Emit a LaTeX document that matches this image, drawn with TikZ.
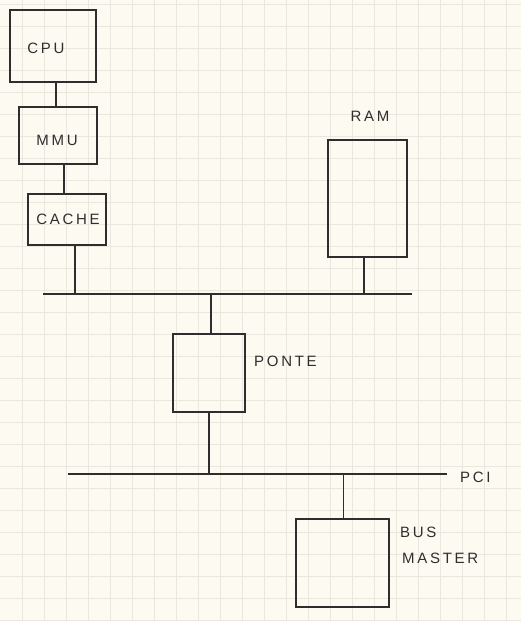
\documentclass[tikz,border=0pt]{standalone}
\usepackage{fontspec}
\setmainfont{Liberation Sans}[LetterSpace=18]
\definecolor{paper}{HTML}{FCFAF1}
\definecolor{gridc}{HTML}{E9E7DE}
\definecolor{ink}{HTML}{2E2E2E}
\begin{document}
\begin{tikzpicture}[x=1pt,y=-1pt,
  box/.style={draw=ink,line width=1.1pt,minimum width=#1,inner sep=0pt},
  lbl/.style={text=ink,font=\fontsize{15}{17}\selectfont,inner sep=0pt},
  wire/.style={draw=ink,line width=1.2pt}]
\fill[paper] (0,0) rectangle (521,621);
\useasboundingbox (0,0) rectangle (521,621);
\foreach \i in {1,...,23} \draw[gridc,line width=0.9pt] (22*\i,0) -- (22*\i,621);
\foreach \j in {0,...,28} \draw[gridc,line width=0.9pt] (0,4+22*\j) -- (521,4+22*\j);
% boxes
\node[box=86pt,minimum height=72pt] (cpu) at (53,46) {};
\node[box=78pt,minimum height=57pt] (mmu) at (58,135.5) {};
\node[box=78pt,minimum height=51pt] (cache) at (67,219.5) {};
\node[box=79pt,minimum height=117pt] (ram) at (367.5,198.5) {};
\node[box=72pt,minimum height=78pt] (ponte) at (209,373) {};
\node[box=93pt,minimum height=88pt] (bm) at (342.5,563) {};
% labels
\node[lbl] (tcpu) at (46,48) {CPU};
\node[lbl] (tmmu) at (57,140) {MMU};
\node[lbl] (tcache) at (68,219) {CACHE};
\node[lbl] (tram) at (370,116) {RAM};
\node[lbl,anchor=west] (tponte) at (254,361) {PONTE};
\node[lbl,anchor=west] (tpci) at (460,477) {PCI};
\node[lbl,anchor=west] (tbus) at (400,532) {BUS};
\node[lbl,anchor=west] (tmaster) at (402,558) {MASTER};
% buses
\coordinate (b1l) at (43,294);
\coordinate (b1r) at (412,294);
\coordinate (b2l) at (68,474);
\coordinate (b2r) at (447,474);
\draw[wire] (b1l) -- (b1r);
\draw[wire] (b2l) -- (b2r);
% connectors
\draw[wire] ([xshift=3pt]cpu.south) -- ([xshift=3pt]cpu.south |- mmu.north);
\draw[wire] ([xshift=6pt]mmu.south) -- ([xshift=6pt]mmu.south |- cache.north);
\draw[wire] ([xshift=8pt]cache.south) -- ([xshift=8pt]cache.south |- b1l);
\draw[wire] ([xshift=-3.5pt]ram.south) -- ([xshift=-3.5pt]ram.south |- b1l);
\draw[wire] ([xshift=2pt]ponte.north) -- ([xshift=2pt]ponte.north |- b1l);
\draw[wire] (ponte.south) -- (ponte.south |- b2l);
\draw[wire] ([xshift=1pt]bm.north) -- ([xshift=1pt]bm.north |- b2l);
\end{tikzpicture}
\end{document}
